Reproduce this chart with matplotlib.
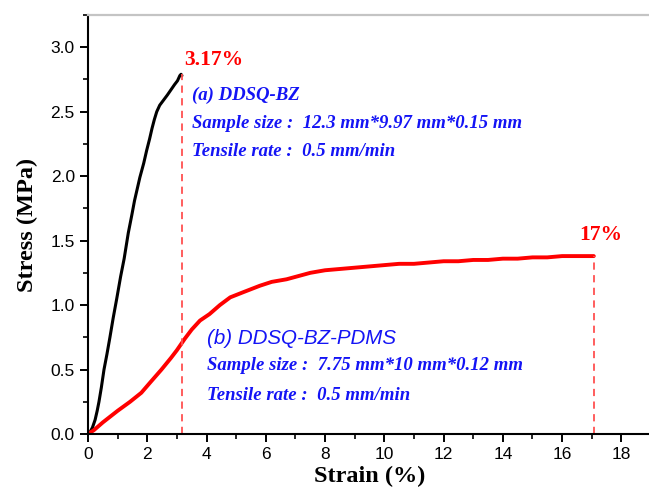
import matplotlib
matplotlib.use("Agg")
import matplotlib.pyplot as plt
from matplotlib.ticker import MultipleLocator

# Stress-strain data (strain in %, stress in MPa)
bz_strain = [0.0, 0.08, 0.15, 0.24, 0.31, 0.37, 0.45, 0.54, 0.64, 0.74, 0.85, 0.97,
             1.10, 1.22, 1.36, 1.48, 1.57, 1.75, 1.88, 1.98, 2.08, 2.16, 2.24, 2.32,
             2.42, 2.55, 2.68, 2.80, 2.92, 3.02, 3.10, 3.14, 3.17]
bz_stress = [0.0, 0.02, 0.05, 0.11, 0.18, 0.25, 0.36, 0.50, 0.62, 0.75, 0.90, 1.05,
             1.22, 1.36, 1.56, 1.70, 1.81, 1.99, 2.10, 2.20, 2.29, 2.37, 2.44, 2.50,
             2.55, 2.59, 2.63, 2.67, 2.71, 2.74, 2.78, 2.79, 2.78]

pdms_strain = [0.0, 0.2, 0.5, 1.0, 1.42, 1.8, 2.1, 2.48, 2.8, 3.0, 3.27, 3.5, 3.78,
               4.1, 4.45, 4.8, 5.24, 5.8, 6.2, 6.7, 7.5, 8.0, 8.5, 9.0, 9.5, 10.0,
               10.5, 11.0, 11.5, 12.0, 12.5, 13.0, 13.5, 14.0, 14.5, 15.0, 15.5,
               16.0, 16.5, 17.0, 17.07]
pdms_stress = [0.0, 0.03, 0.09, 0.18, 0.25, 0.32, 0.40, 0.50, 0.59, 0.65, 0.74, 0.81,
               0.88, 0.93, 1.00, 1.06, 1.10, 1.15, 1.18, 1.20, 1.25, 1.27, 1.28, 1.29,
               1.30, 1.31, 1.32, 1.32, 1.33, 1.34, 1.34, 1.35, 1.35, 1.36, 1.36,
               1.37, 1.37, 1.38, 1.38, 1.38, 1.38]

bz_break = 3.17
pdms_break = 17.07

x_ticks = [0, 2, 4, 6, 8, 10, 12, 14, 16, 18]
y_ticks = [0.0, 0.5, 1.0, 1.5, 2.0, 2.5, 3.0]

serif = "Liberation Serif"
sans = "Liberation Sans"

fig = plt.figure(figsize=(6.49, 4.95), dpi=100)
ax = fig.add_axes([88 / 649, 61 / 495, 563 / 649, 419 / 495])

ax.plot(bz_strain, bz_stress, color="black", lw=2.2, solid_capstyle="round",
        solid_joinstyle="round")
ax.plot(pdms_strain, pdms_stress, color="red", lw=2.8, solid_capstyle="round",
        solid_joinstyle="round")

# break markers
ax.plot([bz_break, bz_break], [0, max(bz_stress)], color="#ff5050", lw=1.3,
        ls=(0, (4, 3)))
ax.plot([pdms_break, pdms_break], [0, pdms_stress[-1]], color="#ff5050", lw=1.3,
        ls=(0, (4, 3)))
ax.text(3.25, 2.9, "3.17%", color="red", fontsize=15.5, fontweight="bold",
        family=serif, ha="left", va="center")
ax.text(17.3, 1.54, "17%", color="red", fontsize=15.5, fontweight="bold",
        family=serif, ha="center", va="center")

blue = "#1414f5"
ax.text(3.5, 2.63, "(a) DDSQ-BZ", color=blue, fontsize=13.5, fontweight="bold",
        style="italic", family=serif, va="center")
ax.text(3.5, 2.41, "Sample size :  12.3 mm*9.97 mm*0.15 mm", color=blue,
        fontsize=13.5, fontweight="bold", style="italic", family=serif, va="center")
ax.text(3.5, 2.19, "Tensile rate :  0.5 mm/min", color=blue, fontsize=13.5,
        fontweight="bold", style="italic", family=serif, va="center")

ax.text(4.0, 0.74, "(b) DDSQ-BZ-PDMS", color=blue, fontsize=14.8,
        style="italic", family=sans, va="center")
ax.text(4.0, 0.53, "Sample size :  7.75 mm*10 mm*0.12 mm", color=blue,
        fontsize=13.5, fontweight="bold", style="italic", family=serif, va="center")
ax.text(4.0, 0.30, "Tensile rate :  0.5 mm/min", color=blue, fontsize=13.5,
        fontweight="bold", style="italic", family=serif, va="center")

ax.set_xlim(0, 19)
ax.set_ylim(0, 3.25)
ax.set_xticks(x_ticks)
ax.set_yticks(y_ticks)
ax.set_yticklabels([f"{v:.1f}" for v in y_ticks])
ax.xaxis.set_minor_locator(MultipleLocator(1))
ax.yaxis.set_minor_locator(MultipleLocator(0.25))
ax.tick_params(which="major", direction="out", length=6, width=1.4,
               labelsize=12.5, top=False, right=False)
ax.tick_params(which="minor", direction="out", length=3.5, width=1.2,
               top=False, right=False)
for lab in ax.get_xticklabels() + ax.get_yticklabels():
    lab.set_family(sans)

ax.spines["left"].set_linewidth(1.5)
ax.spines["bottom"].set_linewidth(1.5)
ax.spines["top"].set_color("#c4c4c4")
ax.spines["top"].set_linewidth(1.6)
ax.spines["right"].set_visible(False)

ax.set_xlabel("Strain (%)", fontsize=17.5, fontweight="bold", family=serif,
              labelpad=3)
ax.set_ylabel("Stress (MPa)", fontsize=17.5, fontweight="bold", family=serif,
              labelpad=9)

fig.savefig("out.png", dpi=100)
